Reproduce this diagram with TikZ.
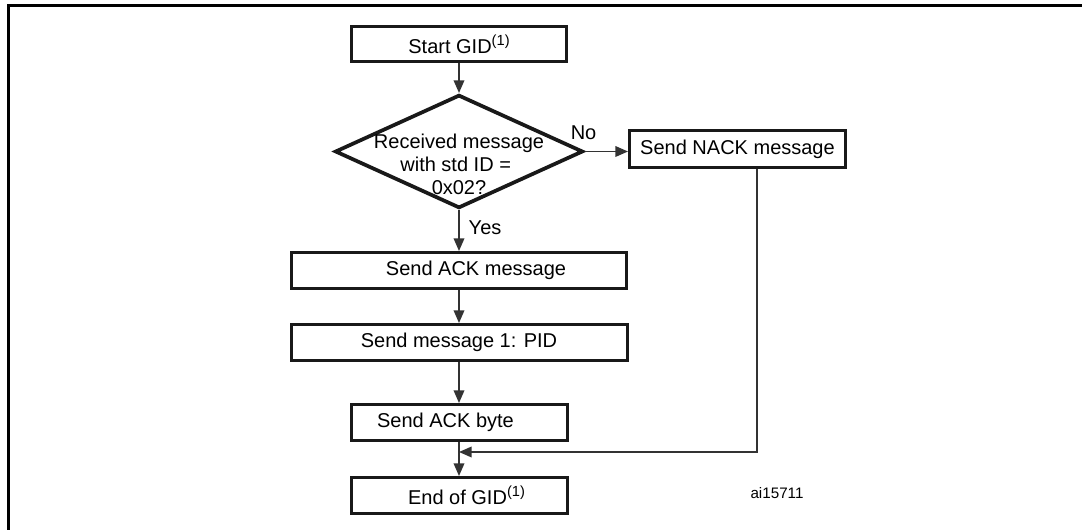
\documentclass[tikz,border=0pt]{standalone}
\usepackage{fontspec}
\setmainfont{Liberation Sans}
\usetikzlibrary{shapes.geometric,arrows.meta,calc}
\newcommand{\supone}{\raisebox{0.42em}{\fontsize{11}{11}\selectfont(1)}}
\begin{document}
\begin{tikzpicture}[x=0.75pt,y=-0.75pt,
  box/.style={draw=black!90, line width=2.25pt, rectangle, inner sep=0pt,
    minimum height=27pt, font=\fontsize{15}{15}\selectfont},
  dia/.style={draw=black!90, line width=2.8pt, diamond, inner sep=0pt,
    minimum width=186pt, minimum height=85pt, font=\fontsize{15}{15}\selectfont},
  arr/.style={draw=black!80, line width=1.1pt, -{Triangle[length=9.5pt,width=8pt]}},
  lbl/.style={inner sep=0pt, font=\fontsize{15}{15}\selectfont},
  frame/.style={draw=black, line width=2.25pt}
]
\useasboundingbox (0,0) rectangle (1082,530);
\draw[frame] (1082,6) -- (8,6) -- (8,530);

\node[box, minimum width=161.25pt, minimum height=26.25pt] (start) at (459,44) {Start GID\supone};
\node[dia] (dec) at (459,151.5) {\raisebox{-15.5pt}[0pt][0pt]{\makebox[0pt]{\renewcommand{\arraystretch}{1.15}\begin{tabular}{@{}c@{}}Received message\\with std ID =\hspace*{5pt}\\0x02?\end{tabular}}}};
\node[box, minimum width=162pt, minimum height=27.75pt] (nack) at (737.5,149) {Send NACK message};
\node[box, minimum width=251.25pt] (ackmsg) at (459,270.5) {\hspace*{25.5pt}Send ACK message};
\node[box, minimum width=252pt] (pid) at (459,342.5) {Send message 1: PID};
\node[box, minimum width=162pt] (ackbyte) at (459,422.5) {Send ACK byte\hspace*{20.25pt}};
\node[box, minimum width=162pt] (endgid) at (459,495.5) {\hspace*{11.25pt}End of GID\supone};
\node[inner sep=0pt, font=\fontsize{11.4}{12}\selectfont] (ai) at (777,493) {ai15711};

\coordinate (join) at (459,452);

\draw[arr] (start.south) -- (dec.north);
\draw[arr] (dec.east) -- node[lbl, pos=0, anchor=base, xshift=-1pt, yshift=9pt] {No} (dec.east -| nack.west);
\draw[arr] (dec.south) -- node[lbl, pos=0.42, anchor=west, xshift=6.75pt] {Yes} (ackmsg.north);
\draw[arr] (ackmsg.south) -- (pid.north);
\draw[arr] (pid.south) -- (ackbyte.north);
\draw[arr] (ackbyte.south) -- (endgid.north);
\draw[arr] ([xshift=14.6pt]nack.south) |- (join);
\end{tikzpicture}
\end{document}
